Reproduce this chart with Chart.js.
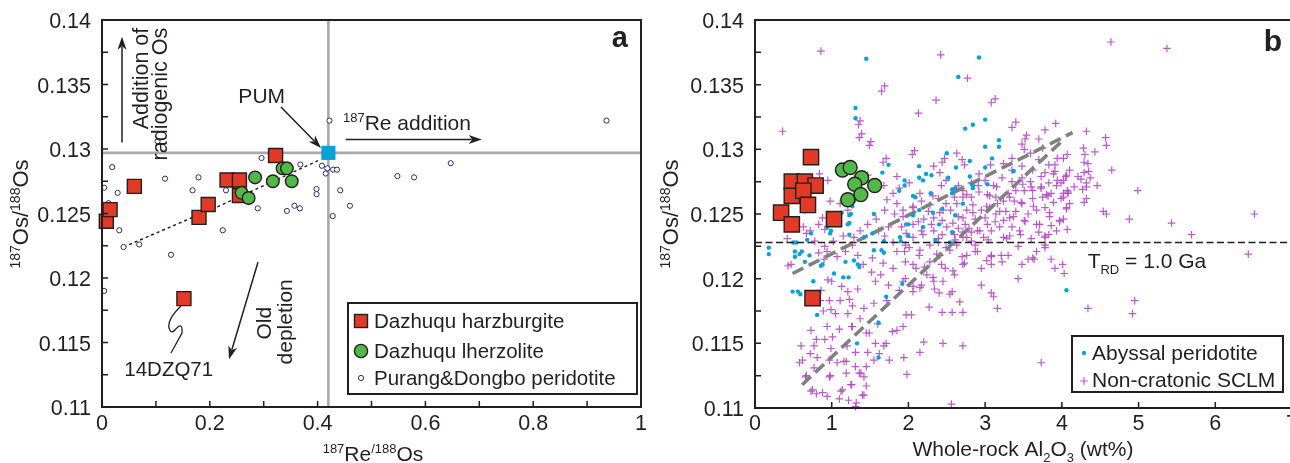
<!DOCTYPE html>
<html lang="en">
<head>
  <meta charset="UTF-8" />
  <title>Re-Os isotopes of Dazhuqu peridotites</title>
  <script src="https://cdn.jsdelivr.net/npm/chart.js"></script>
  <style>
    html, body { margin: 0; padding: 0; background: #fff; overflow: hidden; }
    #wrap { position: relative; width: 1290px; height: 463px; overflow: hidden; }
    #chartA { position: absolute; left: 0; top: 0; }
    #chartB { position: absolute; left: 650px; top: 0; }
  </style>
</head>
<body>
<div id="wrap">
  <canvas id="chartA" width="650" height="463"></canvas>
  <canvas id="chartB" width="646" height="463"></canvas>
</div>

<script>
  // ---------- panel a : 187Re/188Os vs 187Os/188Os ----------
  const harzReOs  = [0.008, 0.015, 0.060, 0.180, 0.197, 0.232, 0.255, 0.255, 0.322, 0.152];
  const harzOsA   = [0.1244, 0.1253, 0.1271, 0.1247, 0.1257, 0.1276, 0.1276, 0.1264, 0.1295, 0.1184];
  const lherzReOs = [0.284, 0.259, 0.272, 0.317, 0.335, 0.343, 0.352];
  const lherzOsA  = [0.1278, 0.1266, 0.1262, 0.1275, 0.1285, 0.1285, 0.1275];
  const purangPoints = [
    [0.019,0.1286],[0.004,0.1270],[0.029,0.1266],[0.012,0.1258],[0.032,0.1237],[0.040,0.1224],
    [0.069,0.1226],[0.004,0.1190],[0.103,0.1306],[0.117,0.1277],[0.128,0.1218],[0.168,0.1268],
    [0.179,0.1278],[0.224,0.1237],[0.230,0.1268],[0.289,0.1254],[0.296,0.1293],[0.343,0.1252],
    [0.357,0.1256],[0.367,0.1254],[0.368,0.1288],[0.398,0.1269],[0.398,0.1265],[0.408,0.1287],
    [0.418,0.1285],[0.415,0.1281],[0.429,0.1284],[0.436,0.1284],[0.442,0.1268],[0.460,0.1256],
    [0.428,0.1248],[0.422,0.1322],[0.548,0.1279],[0.579,0.1278],[0.647,0.1289],[0.936,0.1322]
  ];
  const pumReOs = 0.42;
  const pumOs = 0.1297;
  const depletionTrend = [[0.040,0.1224],[0.213,0.1255],[0.401,0.1291]];

  const aXTicks  = [0, 0.2, 0.4, 0.6, 0.8, 1];
  const aXLabels = ['0', '0.2', '0.4', '0.6', '0.8', '1'];
  const aXMinor  = [0.1, 0.2, 0.3, 0.4, 0.5, 0.6, 0.7, 0.8, 0.9];
  const yTicks   = [0.11, 0.115, 0.12, 0.125, 0.13, 0.135, 0.14];
  const yLabels  = ['0.11', '0.115', '0.12', '0.125', '0.13', '0.135', '0.14'];
  const yMinor   = [0.1125, 0.115, 0.1175, 0.12, 0.1225, 0.125, 0.1275, 0.13, 0.1325, 0.135, 0.1375];

  // ---------- panel b : whole-rock Al2O3 vs 187Os/188Os ----------
  const harzAl2O3 = [0.73, 0.48, 0.65, 0.79, 0.48, 0.63, 0.69, 0.34, 0.48, 1.03, 0.75];
  const harzOsB   = [0.1294, 0.1275, 0.1275, 0.1272, 0.1264, 0.1268, 0.1257, 0.1251, 0.1242, 0.1246, 0.1185];
  const lherzAl2O3 = [1.14, 1.24, 1.39, 1.30, 1.56, 1.38, 1.21];
  const lherzOsB   = [0.1284, 0.1286, 0.1278, 0.1273, 0.1272, 0.1265, 0.1261];
  const abyssalPoints = [
    [1.45,0.1370],[2.92,0.1371],[2.65,0.1356],[1.31,0.1332],[1.31,0.1324],[3.00,0.1323],[2.84,0.1319],
    [2.74,0.1316],[3.18,0.1307],[3.18,0.1302],[3.00,0.1302],[2.50,0.1297],[3.09,0.1293],[3.00,0.1286],
    [1.74,0.1288],[1.66,0.1282],[2.14,0.1287],[2.23,0.1281],[2.30,0.1280],[2.62,0.1286],[2.80,0.1291],
    [2.80,0.1279],[2.14,0.1278],[1.95,0.1276],[1.95,0.1272],[2.52,0.1278],[2.57,0.1269],[3.37,0.1283],
    [3.03,0.1273],[2.19,0.1276],[1.88,0.1268],[2.29,0.1266],[2.84,0.1272],[2.84,0.1270],[2.61,0.1270],
    [2.06,0.1264],[2.09,0.1263],[2.57,0.1266],[2.44,0.1254],[2.71,0.1258],[2.61,0.1249],[2.32,0.1251],
    [2.14,0.1253],[2.06,0.1249],[2.00,0.1242],[2.19,0.1240],[2.40,0.1242],[2.57,0.1236],[1.55,0.1250],
    [1.23,0.1249],[1.27,0.1256],[1.29,0.1260],[1.23,0.1243],[0.99,0.1237],[1.23,0.1234],[1.42,0.1232],
    [1.55,0.1222],[1.68,0.1229],[1.68,0.1220],[1.89,0.1232],[2.00,0.1233],[2.35,0.1230],[2.54,0.1228],
    [0.68,0.1230],[0.54,0.1228],[0.52,0.1221],[0.52,0.1217],[0.61,0.1221],[0.71,0.1218],[0.65,0.1213],
    [0.88,0.1211],[0.18,0.1224],[0.18,0.1219],[1.03,0.1204],[1.15,0.1201],[1.22,0.1201],[1.34,0.1211],
    [1.36,0.1209],[1.18,0.1213],[1.29,0.1214],[0.76,0.1198],[0.56,0.1190],[0.49,0.1190],[0.59,0.1188],
    [0.81,0.1172],[1.71,0.1186],[1.92,0.1196],[1.61,0.1166],[1.61,0.1139],[1.33,0.1150],[4.06,0.1191],
    [0.94,0.1240],[0.98,0.1235],[0.73,0.1235],[1.21,0.1242],[1.13,0.1251],[1.25,0.1250],[1.53,0.1235],
    [0.50,0.1228],[0.58,0.1219],[0.86,0.1210],[1.65,0.1222],[1.97,0.1242],[1.90,0.1229]
  ];
  const sclmPoints = [
    [4.64,0.1383],[5.37,0.1378],[0.86,0.1376],[2.42,0.1373],[2.77,0.1355],[1.69,0.1349],[3.13,0.1339],
    [2.36,0.1338],[2.13,0.1328],[0.36,0.1314],[1.37,0.1322],[1.39,0.1312],[1.51,0.1306],[3.40,0.1321],
    [3.78,0.1315],[3.92,0.1320],[4.32,0.1314],[4.57,0.1309],[4.58,0.1303],[4.43,0.1298],[4.28,0.1301],
    [4.30,0.1296],[4.65,0.1284],[4.46,0.1272],[4.32,0.1262],[4.29,0.1259],[4.54,0.1252],[4.58,0.1250],
    [4.88,0.1246],[4.99,0.1268],[5.43,0.1243],[5.69,0.1234],[6.51,0.1250],[6.43,0.1219],
    [4.02,0.1293],[4.29,0.1290],[4.35,0.1283],[3.91,0.1288],[3.89,0.1281],[4.02,0.1276],[4.06,0.1280],
    [4.25,0.1277],[4.32,0.1274],[4.27,0.1269],[4.08,0.1266],[3.99,0.1262],[3.82,0.1264],[3.93,0.1272],
    [3.73,0.1270],[4.06,0.1254],[3.84,0.1248],[3.97,0.1244],[3.93,0.1237],[3.78,0.1233],[3.78,0.1224],
    [3.86,0.1215],[3.91,0.1208],[4.01,0.1211],[4.03,0.1204],[3.56,0.1215],[3.64,0.1215],[3.43,0.1200],
    [2.95,0.1195],[3.08,0.1189],[3.11,0.1186],[3.16,0.1177],[2.67,0.1182],[2.71,0.1174],[2.57,0.1174],
    [2.44,0.1174],[2.27,0.1178],[3.73,0.1135],[2.71,0.1148],[2.45,0.1150],[2.20,0.1151],[2.15,0.1143],
    [1.94,0.1139],[1.98,0.1126],[2.56,0.1103],[1.93,0.1163],[2.04,0.1172],[1.97,0.1172],[4.34,0.1177],
    [4.95,0.1183],[4.92,0.1173],[2.57,0.1190],[2.40,0.1189],
    [1.85,0.1160],[1.60,0.1165],[1.72,0.1183],[1.42,0.1110],[1.31,0.1101],[1.22,0.1106],[1.12,0.1113],
    [0.80,0.1111],[0.75,0.1114],[0.94,0.1109],[0.66,0.1124],[0.62,0.1137],[0.77,0.1131],[0.60,0.1148],
    [0.72,0.1142],[0.81,0.1139],[0.98,0.1125],[1.07,0.1135],[1.19,0.1136],[1.31,0.1132],[1.42,0.1124],
    [1.26,0.1118],[1.38,0.1127],[1.57,0.1150],[1.55,0.1137],[1.68,0.1148],[1.45,0.1158],[1.47,0.1143],
    [1.31,0.1143],[1.20,0.1148],[0.99,0.1146],[0.91,0.1153],[0.80,0.1153],[0.73,0.1160],[0.94,0.1163],
    [1.10,0.1161],[1.26,0.1163],[1.37,0.1169],[1.21,0.1173],[1.05,0.1173],[0.89,0.1175],[0.97,0.1183],
    [1.11,0.1183],[1.27,0.1179],[1.42,0.1177],[1.55,0.1181],[1.21,0.1190],[1.34,0.1192],[1.13,0.1194],
    [1.00,0.1198],[0.86,0.1191],[0.85,0.1183],
    [0.43,0.1210],[0.67,0.1235],[0.90,0.1215],[0.95,0.1199],[0.99,0.1176],[1.23,0.1184],[1.27,0.1163],
    [0.77,0.1148],[0.97,0.1137],[1.01,0.1155],[1.16,0.1136],[1.19,0.1127],[1.36,0.1127],[1.45,0.1132],
    [1.49,0.1158],[1.62,0.1142],[1.71,0.1150],[1.75,0.1137],[1.79,0.1159],[0.97,0.1124],[0.88,0.1112],
    [0.73,0.1113],[0.67,0.1125],[0.58,0.1135],[1.45,0.1117],[1.40,0.1110],[1.25,0.1118],[1.14,0.1114],
    [1.10,0.1107],[1.32,0.1104],
    [0.94,0.1221],[1.07,0.1217],[1.18,0.1221],[1.27,0.1226],[1.34,0.1218],[1.41,0.1211],[1.52,0.1205],
    [1.64,0.1203],[1.57,0.1198],[1.74,0.1195],[1.88,0.1191],[1.96,0.1200],[2.06,0.1194],[2.17,0.1195],
    [2.33,0.1198],[2.24,0.1203],[2.10,0.1208],[1.96,0.1213],[1.80,0.1208],[1.67,0.1212],[1.53,0.1216],
    [1.85,0.1221],[2.01,0.1224],[2.14,0.1218],[2.28,0.1213],[2.41,0.1218],[2.48,0.1208],[2.60,0.1203],
    [2.71,0.1211],[2.76,0.1218],[2.90,0.1221],[3.08,0.1218],[3.22,0.1213],[3.30,0.1218],[3.08,0.1211],
    [2.95,0.1208],[3.67,0.1221],[3.78,0.1226],[3.62,0.1216],[3.48,0.1211],[3.43,0.1225],[3.70,0.1236],
    [3.83,0.1234],[4.02,0.1246],[4.07,0.1238],[3.86,0.1241],[3.67,0.1242],[3.46,0.1234],[3.32,0.1233],
    [3.24,0.1232],[3.08,0.1237],[2.98,0.1232],[2.87,0.1226],[2.82,0.1236],[2.71,0.1232],[2.63,0.1226],
    [2.49,0.1224],[2.39,0.1228],[2.28,0.1226],[2.17,0.1237],[2.06,0.1232],[1.96,0.1226],[1.80,0.1228],
    [1.69,0.1233],[1.61,0.1237],[1.74,0.1240],[1.91,0.1240],[2.06,0.1242],[2.20,0.1246],[2.33,0.1247],
    [2.44,0.1245],[2.58,0.1243],[2.74,0.1242],[2.87,0.1246],[3.00,0.1247],[3.14,0.1250],[3.24,0.1245],
    [3.35,0.1240],[3.27,0.1252],[3.40,0.1252],[3.48,0.1258],[3.62,0.1262],[3.75,0.1263],[3.89,0.1259],
    [4.02,0.1266],[4.07,0.1268],[4.10,0.1258],[4.16,0.1271],[3.99,0.1274],[4.05,0.1279],[4.10,0.1284],
    [4.21,0.1279],[4.32,0.1271],[4.37,0.1278],[4.34,0.1289],[4.29,0.1282],[3.91,0.1283],[3.83,0.1288],
    [3.94,0.1293],[4.07,0.1296],[3.70,0.1292],[3.59,0.1297],[3.48,0.1304],[3.54,0.1311],[3.70,0.1308],
    [3.75,0.1301],[3.51,0.1300],[3.35,0.1293],[3.24,0.1289],[3.35,0.1284],[3.48,0.1287],[3.62,0.1284],
    [3.73,0.1279],[3.59,0.1275],[3.48,0.1278],[3.35,0.1275],[3.22,0.1278],[3.11,0.1272],[3.00,0.1276],
    [2.92,0.1281],[2.82,0.1274],[2.71,0.1268],[2.60,0.1263],[2.49,0.1258],[2.39,0.1262],[2.28,0.1257],
    [2.17,0.1260],[2.06,0.1255],[1.93,0.1253],[1.82,0.1250],[1.69,0.1253],[1.58,0.1246],[1.47,0.1242],
    [1.37,0.1237],[1.29,0.1232],[1.15,0.1233],[1.02,0.1229],[0.91,0.1225],[0.83,0.1220],[0.78,0.1229],
    [0.72,0.1237],[0.83,0.1242],[0.91,0.1238],[0.98,0.1260],[1.11,0.1258],[1.21,0.1253],[1.07,0.1249],
    [0.88,0.1247],[0.63,0.1240],[0.47,0.1211],[0.42,0.1231],[0.65,0.1253],[1.72,0.1261],[1.85,0.1258],
    [1.80,0.1266],[1.88,0.1270],[2.01,0.1274],[1.85,0.1279],[1.61,0.1274],[2.49,0.1276],[2.41,0.1282],
    [2.33,0.1287],[2.47,0.1293],[2.73,0.1288],[2.63,0.1297],[2.08,0.1299],[1.71,0.1293],
    [2.82,0.1263],[2.92,0.1267],[3.03,0.1265],[3.14,0.1263],[3.24,0.1260],[3.16,0.1258],[3.06,0.1255],
    [2.95,0.1253],[2.84,0.1257],[2.76,0.1253],[2.71,0.1247],[2.65,0.1239],[2.79,0.1239],[2.90,0.1237],
    [3.03,0.1242],[3.19,0.1240],[3.32,0.1247],[3.38,0.1260],[3.30,0.1266],[3.40,0.1268],[3.51,0.1268],
    [3.62,0.1268],[3.73,0.1271],[3.83,0.1274],[3.94,0.1276],[3.78,0.1282],[3.86,0.1266],[3.67,0.1253],
    [3.78,0.1255],[3.56,0.1250],[3.51,0.1245],[2.71,0.1263],[2.63,0.1258],[2.55,0.1253],[2.41,0.1251],
    [2.33,0.1237],[2.44,0.1234],[2.60,0.1234],[2.76,0.1232],
    [0.84,0.1281],[0.95,0.1276],[1.35,0.1319],[1.36,0.1309],[1.49,0.1303],[1.65,0.1345],[3.08,0.1336],
    [3.35,0.1317],[2.05,0.1296],[1.67,0.1290],[2.44,0.1290],[2.70,0.1292],[3.07,0.1288],[3.52,0.1308],
    [1.68,0.1272],[1.47,0.1280],
    [2.43,0.1272],[2.65,0.1272],[2.91,0.1272],[3.15,0.1271],[3.49,0.1273],[3.60,0.1271],[3.80,0.1265],
    [4.02,0.1263],[4.08,0.1267],[2.15,0.1266],[2.32,0.1264],[2.76,0.1265],[3.06,0.1264],[3.32,0.1263],
    [3.47,0.1259],[3.63,0.1256],[3.84,0.1251],[3.97,0.1245],[4.06,0.1255],[2.06,0.1256],[2.26,0.1252],
    [2.45,0.1253],[2.65,0.1248],[2.84,0.1251],[3.02,0.1256],[3.19,0.1252],[3.37,0.1248],[3.52,0.1244],
    [3.71,0.1242],[1.93,0.1248],[2.13,0.1244],[2.30,0.1242],[2.50,0.1240],[2.71,0.1236],[2.93,0.1237],
    [3.13,0.1244],[3.28,0.1231],[3.45,0.1237],[3.60,0.1231],[3.78,0.1232],[1.97,0.1235],[2.19,0.1234],
    [2.39,0.1231],[2.61,0.1230],[2.82,0.1229],[3.04,0.1230],
    [1.95,0.1221],[2.15,0.1222],[2.37,0.1219],[2.54,0.1222],[2.70,0.1217],[2.87,0.1221],[3.08,0.1217],
    [3.21,0.1218],[2.06,0.1211],[2.21,0.1209],[2.43,0.1211],[2.58,0.1206],[2.73,0.1212],[3.02,0.1214],
    [2.32,0.1201],[2.45,0.1198],[2.15,0.1193],[2.34,0.1192],[2.54,0.1188],[1.93,0.1198],[2.06,0.1190]
  ];
  const trendUpper = [[0.49,0.1204],[4.14,0.1313]];
  const trendLower = [[0.615,0.1118],[4.03,0.1308]];
  const trdOs = 0.1228;

  const bXTicks  = [0, 1, 2, 3, 4, 5, 6, 7];
  const bXLabels = ['0', '1', '2', '3', '4', '5', '6', '7'];

  // ---------- colours & helpers ----------
  const FONT  = '"Liberation Sans", Arial, Helvetica, sans-serif';
  const INK   = '#231f20';
  const RED   = '#e13a26';
  const GREEN = '#52b848';
  const CYAN  = '#0aa2d6';
  const NAVY  = '#2d2c6e';
  const MAG   = 'rgba(180,72,198,0.9)';

  const toXY = pts => pts.map(p => ({ x: p[0], y: p[1] }));
  const zip = (xs, ys) => xs.map((x, i) => ({ x: x, y: ys[i] }));

  function fontFor(seg, size) {
    const s = (seg.sup || seg.sub) ? Math.round(size * 0.62) : size;
    return s + 'px ' + FONT;
  }
  // draws text with superscript / subscript parts, baseline at y
  function drawRich(ctx, segs, x, y, size, align) {
    let w = 0;
    segs.forEach(s => { ctx.font = fontFor(s, size); w += ctx.measureText(s.t).width; });
    let cx = align === 'center' ? x - w / 2 : (align === 'right' ? x - w : x);
    ctx.textAlign = 'left';
    ctx.textBaseline = 'alphabetic';
    segs.forEach(s => {
      ctx.font = fontFor(s, size);
      const dy = s.sup ? -size * 0.36 : (s.sub ? size * 0.3 : 0);
      ctx.fillText(s.t, cx, y + dy);
      cx += ctx.measureText(s.t).width;
    });
  }
  function arrow(ctx, x1, y1, x2, y2) {
    const head = 13, half = 4.5;
    const ang = Math.atan2(y2 - y1, x2 - x1);
    const c = Math.cos(ang), s = Math.sin(ang);
    const hx = x2 - head * c, hy = y2 - head * s;
    ctx.beginPath(); ctx.moveTo(x1, y1); ctx.lineTo(hx + 3 * c, hy + 3 * s); ctx.stroke();
    ctx.beginPath();
    ctx.moveTo(x2, y2);
    ctx.lineTo(hx + half * s, hy - half * c);
    ctx.lineTo(hx + 3.5 * c, hy + 3.5 * s);
    ctx.lineTo(hx - half * s, hy + half * c);
    ctx.closePath(); ctx.fill();
  }
  function marker(ctx, kind, x, y) {
    ctx.save();
    ctx.lineWidth = 1.4; ctx.strokeStyle = INK;
    if (kind === 'square') {
      ctx.fillStyle = RED; ctx.fillRect(x - 6.5, y - 6.5, 13, 13); ctx.strokeRect(x - 6.5, y - 6.5, 13, 13);
    } else if (kind === 'circle') {
      ctx.fillStyle = GREEN; ctx.beginPath(); ctx.arc(x, y, 6.6, 0, Math.PI * 2); ctx.fill(); ctx.stroke();
    } else if (kind === 'open') {
      ctx.strokeStyle = NAVY; ctx.lineWidth = 1; ctx.fillStyle = '#fff';
      ctx.beginPath(); ctx.arc(x, y, 2.6, 0, Math.PI * 2); ctx.fill(); ctx.stroke();
    } else if (kind === 'dot') {
      ctx.fillStyle = CYAN; ctx.beginPath(); ctx.arc(x, y, 2.2, 0, Math.PI * 2); ctx.fill();
    } else if (kind === 'cross') {
      ctx.strokeStyle = MAG; ctx.lineWidth = 1.2;
      ctx.beginPath(); ctx.moveTo(x - 3.8, y); ctx.lineTo(x + 3.8, y); ctx.moveTo(x, y - 3.8); ctx.lineTo(x, y + 3.8); ctx.stroke();
    }
    ctx.restore();
  }
  function legendBox(ctx, x, y, w, h, rows, size) {
    ctx.fillStyle = '#fff'; ctx.fillRect(x, y, w, h);
    ctx.strokeStyle = INK; ctx.lineWidth = 2; ctx.strokeRect(x, y, w, h);
    rows.forEach(r => {
      marker(ctx, r.kind, r.mx, r.my);
      ctx.fillStyle = INK; ctx.font = size + 'px ' + FONT;
      ctx.textAlign = 'left'; ctx.textBaseline = 'alphabetic';
      ctx.fillText(r.text, r.tx, r.ty);
    });
  }

  // frame, inward ticks, tick labels and axis titles, drawn from the chart's own scales
  function axesPlugin(cfg) {
    return {
      id: 'axes' + cfg.name,
      afterDraw(chart) {
        const ctx = chart.ctx, a = chart.chartArea, sx = chart.scales.x, sy = chart.scales.y;
        ctx.save();
        ctx.strokeStyle = INK; ctx.lineWidth = 1.5;
        ctx.beginPath();
        cfg.xMinor.forEach(v => { const px = sx.getPixelForValue(v); ctx.moveTo(px, a.bottom); ctx.lineTo(px, a.bottom - 6); });
        cfg.yMinor.forEach(v => { const py = sy.getPixelForValue(v); ctx.moveTo(a.left, py); ctx.lineTo(a.left + 6, py); });
        ctx.stroke();
        ctx.lineWidth = 2;
        ctx.strokeRect(a.left, a.top, a.right - a.left, a.bottom - a.top);

        ctx.fillStyle = INK;
        ctx.font = '21.5px ' + FONT;
        ctx.textBaseline = 'alphabetic';
        ctx.textAlign = 'right';
        yTicks.forEach((v, i) => ctx.fillText(yLabels[i], a.left - 11, sy.getPixelForValue(v) + 8));
        ctx.textAlign = 'center';
        cfg.xTicks.forEach((v, i) => ctx.fillText(cfg.xLabels[i], sx.getPixelForValue(v), 430));

        // axis titles
        drawRich(ctx, cfg.xTitle, 373, cfg.xTitleY, 21, 'center');
        ctx.save();
        ctx.translate(cfg.yTitleX, 214);
        ctx.rotate(-Math.PI / 2);
        drawRich(ctx, [{ t: '187', sup: 1 }, { t: 'Os' }, { t: '/' }, { t: '188', sup: 1 }, { t: 'Os' }], 0, 0, 22, 'center');
        ctx.restore();

        if (cfg.extra) cfg.extra(chart, ctx, sx, sy);
        ctx.restore();
      }
    };
  }

  const commonOptions = (xMin, xMax, pad) => ({
    responsive: false,
    animation: false,
    events: [],
    layout: { padding: pad, autoPadding: false },
    plugins: { legend: { display: false }, tooltip: { enabled: false } },
    scales: {
      x: { type: 'linear', min: xMin, max: xMax, display: false },
      y: { type: 'linear', min: 0.11, max: 0.14, display: false }
    }
  });

  // ---------- chart a ----------
  new Chart(document.getElementById('chartA'), {
    type: 'scatter',
    data: {
      datasets: [
        { label: 'PUM', data: [{ x: pumReOs, y: pumOs }], pointStyle: 'rect', pointRadius: 10,
          backgroundColor: CYAN, borderWidth: 0, clip: false },
        { label: 'Dazhuqu lherzolite', data: zip(lherzReOs, lherzOsA), pointStyle: 'circle', pointRadius: 6.3,
          backgroundColor: GREEN, borderColor: INK, borderWidth: 1.4, clip: false },
        { label: 'Dazhuqu harzburgite', data: zip(harzReOs, harzOsA), pointStyle: 'rect', pointRadius: 9.9,
          backgroundColor: RED, borderColor: INK, borderWidth: 1.4, clip: false },
        { label: 'Purang&Dongbo peridotite', data: toXY(purangPoints), pointStyle: 'circle', pointRadius: 2.6,
          backgroundColor: '#fff', borderColor: NAVY, borderWidth: 1, clip: false },
        { label: 'trend', data: toXY(depletionTrend), showLine: true, pointRadius: 0,
          borderColor: INK, borderWidth: 1.5, borderDash: [3, 3] },
        { label: 'PUM Re', data: [{ x: pumReOs, y: 0.11 }, { x: pumReOs, y: 0.14 }], showLine: true, pointRadius: 0,
          borderColor: '#a7a9ac', borderWidth: 2.6 },
        { label: 'PUM Os', data: [{ x: 0, y: pumOs }, { x: 1, y: pumOs }], showLine: true, pointRadius: 0,
          borderColor: '#a7a9ac', borderWidth: 2.6 }
      ]
    },
    options: commonOptions(0, 1, { left: 102, top: 20, right: 9, bottom: 56 }),
    plugins: [axesPlugin({
      name: 'A',
      xTicks: aXTicks, xLabels: aXLabels, xMinor: aXMinor, yMinor: yMinor, yTitleX: 28, xTitleY: 461,
      xTitle: [{ t: '187', sup: 1 }, { t: 'Re' }, { t: '/188', sup: 1 }, { t: 'Os' }],
      extra(chart, ctx, sx, sy) {
        const X = v => sx.getPixelForValue(v), Y = v => sy.getPixelForValue(v);
        ctx.fillStyle = INK; ctx.strokeStyle = INK; ctx.lineWidth = 1.5;
        // radiogenic Os addition
        arrow(ctx, X(0.0371), Y(0.1305), X(0.0371), Y(0.1387));
        ctx.font = '21.5px ' + FONT; ctx.textBaseline = 'alphabetic'; ctx.textAlign = 'right';
        ctx.save(); ctx.translate(X(0.0853), Y(0.1394)); ctx.rotate(-Math.PI / 2); ctx.fillText('Addition of', 0, 0); ctx.restore();
        ctx.save(); ctx.translate(X(0.1206), Y(0.1394)); ctx.rotate(-Math.PI / 2); ctx.fillText('radiogenic Os', 0, 0); ctx.restore();
        // PUM
        ctx.textAlign = 'center'; ctx.font = '21px ' + FONT;
        ctx.fillText('PUM', X(0.2963), Y(0.13354));
        arrow(ctx, X(0.332), Y(0.13326), X(0.4063), Y(0.13008));
        // 187Re addition
        drawRich(ctx, [{ t: '187', sup: 1 }, { t: 'Re addition' }], X(0.4471), Y(0.13147), 21, 'left');
        arrow(ctx, X(0.4521), Y(0.13074), X(0.7045), Y(0.13074));
        // old depletion
        arrow(ctx, X(0.2894), Y(0.12122), X(0.2356), Y(0.1137));
        ctx.font = '21px ' + FONT; ctx.textAlign = 'center';
        ctx.save(); ctx.translate(X(0.3135), Y(0.1165)); ctx.rotate(-Math.PI / 2); ctx.fillText('Old', 0, 0); ctx.restore();
        ctx.save(); ctx.translate(X(0.3525), Y(0.1166)); ctx.rotate(-Math.PI / 2); ctx.fillText('depletion', 0, 0); ctx.restore();
        // sample label 14DZQ71
        ctx.font = '20.5px ' + FONT;
        ctx.fillText('14DZQ71', X(0.1238), Y(0.11244));
        ctx.lineWidth = 1.3;
        ctx.beginPath();
        ctx.moveTo(X(0.1466), Y(0.11783));
        ctx.quadraticCurveTo(X(0.121), Y(0.1168), X(0.1243), Y(0.11612));
        ctx.quadraticCurveTo(X(0.128), Y(0.1156), X(0.1354), Y(0.11597));
        ctx.quadraticCurveTo(X(0.150), Y(0.1167), X(0.1484), Y(0.11574));
        ctx.lineTo(X(0.128), Y(0.11419));
        ctx.stroke();
        // panel letter
        ctx.font = 'bold 29px ' + FONT; ctx.textAlign = 'right';
        ctx.fillText('a', 628, 47);
        // legend
        legendBox(ctx, 348, 303, 289, 91, [
          { kind: 'square', mx: 361, my: 321, text: 'Dazhuqu harzburgite', tx: 374, ty: 328 },
          { kind: 'circle', mx: 361, my: 351, text: 'Dazhuqu lherzolite', tx: 374, ty: 358 },
          { kind: 'open', mx: 361, my: 378, text: 'Purang&Dongbo peridotite', tx: 374, ty: 385 }
        ], 20.5);
      }
    })]
  });

  // ---------- chart b ----------
  new Chart(document.getElementById('chartB'), {
    type: 'scatter',
    data: {
      datasets: [
        { label: 'Dazhuqu lherzolite', data: zip(lherzAl2O3, lherzOsB), pointStyle: 'circle', pointRadius: 7,
          backgroundColor: GREEN, borderColor: INK, borderWidth: 1.4, clip: false },
        { label: 'Dazhuqu harzburgite', data: zip(harzAl2O3, harzOsB), pointStyle: 'rect', pointRadius: 10.8,
          backgroundColor: RED, borderColor: INK, borderWidth: 1.4, clip: false },
        { label: 'TRD 1.0 Ga', data: [{ x: 0, y: trdOs }, { x: 7, y: trdOs }], showLine: true, pointRadius: 0,
          borderColor: INK, borderWidth: 1.6, borderDash: [7, 3.5] },
        { label: 'Abyssal peridotite', data: toXY(abyssalPoints), pointStyle: 'circle', pointRadius: 2.2,
          backgroundColor: CYAN, borderWidth: 0, clip: false },
        { label: 'upper trend', data: toXY(trendUpper), showLine: true, pointRadius: 0,
          borderColor: '#808080', borderWidth: 3.6, borderDash: [12, 6] },
        { label: 'lower trend', data: toXY(trendLower), showLine: true, pointRadius: 0,
          borderColor: '#808080', borderWidth: 3.6, borderDash: [12, 6] },
        { label: 'Non-cratonic SCLM', data: toXY(sclmPoints), pointStyle: 'cross', pointRadius: 3.8,
          borderColor: MAG, borderWidth: 1.2, clip: false }
      ]
    },
    options: commonOptions(0, 7, { left: 105, top: 20, right: 4, bottom: 55 }),
    plugins: [axesPlugin({
      name: 'B',
      xTicks: bXTicks, xLabels: bXLabels, xMinor: bXTicks, yMinor: yMinor, yTitleX: 28, xTitleY: 456,
      xTitle: [{ t: 'Whole-rock Al' }, { t: '2', sub: 1 }, { t: 'O' }, { t: '3', sub: 1 }, { t: ' (wt%)' }],
      extra(chart, ctx, sx, sy) {
        const X = v => sx.getPixelForValue(v), Y = v => sy.getPixelForValue(v);
        ctx.fillStyle = INK;
        drawRich(ctx, [{ t: 'T' }, { t: 'RD', sub: 1 }, { t: ' = 1.0 Ga' }], X(4.336), Y(0.12082), 21, 'left');
        ctx.font = 'bold 30px ' + FONT; ctx.textAlign = 'right'; ctx.textBaseline = 'alphabetic';
        ctx.fillText('b', 632, 51);
        legendBox(ctx, 422, 336, 211, 56, [
          { kind: 'dot', mx: 434, my: 353, text: 'Abyssal peridotite', tx: 442, ty: 360 },
          { kind: 'cross', mx: 434, my: 381, text: 'Non-cratonic SCLM', tx: 442, ty: 387 }
        ], 21);
      }
    })]
  });
</script>
</body>
</html>
